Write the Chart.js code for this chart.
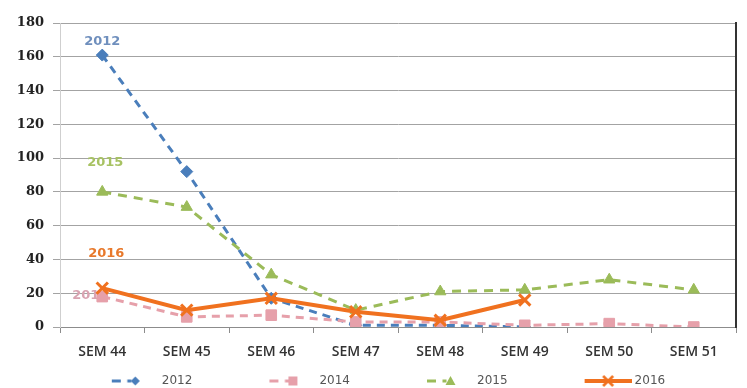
<!DOCTYPE html>
<html>
<head>
<meta charset="utf-8">
<script src="https://cdn.jsdelivr.net/npm/chart.js@4/dist/chart.umd.min.js"></script>
<style>
  html, body { margin: 0; padding: 0; background: #ffffff; }
  #c { display: block; }
</style>
</head>
<body>
<canvas id="c" width="747" height="388"></canvas>
<script>
// Weekly case counts, weeks 44 to 51
const weeks = ['SEM 44', 'SEM 45', 'SEM 46', 'SEM 47', 'SEM 48', 'SEM 49', 'SEM 50', 'SEM 51'];
const cases2012 = [161, 92, 17, 1, 1, 0, null, null];
const cases2014 = [18, 6, 7, 3, 3, 1, 2, 0];
const cases2015 = [80, 71, 31, 10, 21, 22, 28, 22];
const cases2016 = [23, 10, 17, 9, 4, 16, null, null];
const yTicks = [0, 20, 40, 60, 80, 100, 120, 140, 160, 180];

const LEGEND_BOX = 98;

// Small canvas with the line sample + marker used as a legend symbol
function legendSample(ds) {
  const w = LEGEND_BOX + 6, h = 18;
  const cv = document.createElement('canvas');
  cv.width = w; cv.height = h;
  const g = cv.getContext('2d');
  const s = w - 47, cy = h / 2, mx = s + 23.5;
  g.strokeStyle = ds.borderColor;
  g.fillStyle = ds.pointBackgroundColor;
  if (ds.borderDash && ds.borderDash.length) {
    g.lineWidth = 3;
    g.beginPath(); g.moveTo(s, cy); g.lineTo(s + 9, cy); g.stroke();
    g.beginPath(); g.moveTo(mx - 8, cy); g.lineTo(mx - 4, cy); g.stroke();
  } else {
    g.lineWidth = 4;
    g.beginPath(); g.moveTo(s, cy); g.lineTo(s + 47, cy); g.stroke();
  }
  g.lineWidth = 1;
  if (ds.pointStyle === 'rectRot') {
    g.beginPath(); g.moveTo(mx, cy - 4.5); g.lineTo(mx + 4.5, cy); g.lineTo(mx, cy + 4.5); g.lineTo(mx - 4.5, cy); g.closePath(); g.fill();
  } else if (ds.pointStyle === 'rect') {
    g.fillRect(mx - 4.5, cy - 4.5, 9, 9);
  } else if (ds.pointStyle === 'triangle') {
    g.beginPath(); g.moveTo(mx, cy - 5); g.lineTo(mx + 5, cy + 4); g.lineTo(mx - 5, cy + 4); g.closePath(); g.fill();
  } else if (ds.pointStyle === 'crossRot') {
    g.lineWidth = 2.5; g.strokeStyle = ds.pointBorderColor;
    g.beginPath(); g.moveTo(mx - 5, cy - 5); g.lineTo(mx + 5, cy + 5); g.moveTo(mx + 5, cy - 5); g.lineTo(mx - 5, cy + 5); g.stroke();
  }
  return cv;
}

// Series names written next to the first point of each line
const seriesTags = {
  id: 'seriesTags',
  beforeDatasetsDraw(chart) {
    const ctx = chart.ctx;
    ctx.save();
    ctx.font = 'bold 13px "DejaVu Sans"';
    ctx.textAlign = 'center';
    ctx.textBaseline = 'middle';
    chart.data.datasets.forEach((ds, i) => {
      const pt = chart.getDatasetMeta(i).data[0];
      if (!pt) return;
      ctx.fillStyle = ds.tagColor;
      ctx.fillText(ds.label, pt.x + ds.tagDx, pt.y + ds.tagDy);
    });
    ctx.restore();
  }
};

const datasets = [
  {
    label: '2012', data: cases2012,
    borderColor: '#4a7ebb', backgroundColor: '#4a7ebb',
    borderWidth: 3, borderDash: [8, 6],
    pointStyle: 'rectRot', pointRadius: 6, pointBackgroundColor: '#4a7ebb', pointBorderColor: '#4a7ebb', pointBorderWidth: 1,
    tagColor: '#6f8fbd', tagDx: 0, tagDy: -13, order: 3
  },
  {
    label: '2014', data: cases2014,
    borderColor: '#e6a0aa', backgroundColor: '#e6a0aa',
    borderWidth: 3, borderDash: [8, 6],
    pointStyle: 'rect', pointRadius: 7.5, pointBackgroundColor: '#e6a0aa', pointBorderColor: '#e6a0aa', pointBorderWidth: 1,
    tagColor: '#d9a3b1', tagDx: -12, tagDy: -1, order: 2
  },
  {
    label: '2015', data: cases2015,
    borderColor: '#9bbb59', backgroundColor: '#9bbb59',
    borderWidth: 3, borderDash: [9, 7],
    pointStyle: 'triangle', pointRadius: 6.5, pointBackgroundColor: '#9bbb59', pointBorderColor: '#9bbb59', pointBorderWidth: 1,
    tagColor: '#a7c262', tagDx: 3, tagDy: -29, order: 1
  },
  {
    label: '2016', data: cases2016,
    borderColor: '#f0711f', backgroundColor: '#f0711f',
    borderWidth: 4,
    pointStyle: 'crossRot', pointRadius: 8, pointBackgroundColor: '#f0711f', pointBorderColor: '#f0711f', pointBorderWidth: 3,
    tagColor: '#e8792c', tagDx: 4, tagDy: -35, order: 0
  }
];

new Chart(document.getElementById('c'), {
  type: 'line',
  data: { labels: weeks, datasets: datasets },
  plugins: [seriesTags],
  options: {
    responsive: false,
    animation: false,
    devicePixelRatio: 1,
    layout: { padding: { left: 0, right: 5, top: 23, bottom: -9 } },
    elements: { line: { tension: 0, fill: false } },
    plugins: {
      tooltip: { enabled: false },
      legend: {
        position: 'bottom',
        align: 'center',
        labels: {
          usePointStyle: true,
          pointStyleWidth: LEGEND_BOX,
          padding: 4,
          color: '#555555',
          font: { family: '"DejaVu Sans"', size: 12 },
          generateLabels(chart) {
            // trailing spaces keep a wide gap after each entry
            return chart.data.datasets.map((ds, i) => ({
              text: ds.label.padEnd(9, ' '),
              pointStyle: legendSample(ds),
              datasetIndex: i,
              fillStyle: 'rgba(0,0,0,0)',
              strokeStyle: 'rgba(0,0,0,0)',
              lineWidth: 0,
              fontColor: '#555555',
              hidden: false
            }));
          }
        }
      }
    },
    scales: {
      x: {
        offset: true,
        grid: { offset: true, drawOnChartArea: false, drawTicks: true, tickLength: 6, color: '#8c8c8c' },
        border: { color: '#8c8c8c', width: 1 },
        ticks: { color: '#333333', padding: 11, font: { family: '"Open Sans"', weight: 600, size: 14 }, maxRotation: 0, autoSkip: false },
        afterFit(scale) { scale.height = 44; }
      },
      y: {
        min: 0, max: 180,
        afterBuildTicks(scale) { scale.ticks = yTicks.map(v => ({ value: v })); },
        grid: { color: '#a3a3a3', tickLength: 7, lineWidth: 1 },
        border: { color: '#cfcfcf', width: 1 },
        ticks: { color: '#222222', padding: 9, font: { family: '"DejaVu Serif"', weight: 'bold', size: 13 } },
        afterFit(scale) { scale.width = 60; }
      },
      yRight: {
        position: 'right',
        min: 0, max: 180,
        ticks: { display: false },
        grid: { drawOnChartArea: false, drawTicks: false },
        border: { color: '#333333', width: 2 },
        afterFit(scale) { scale.width = 0; }
      }
    }
  }
});
</script>
</body>
</html>
